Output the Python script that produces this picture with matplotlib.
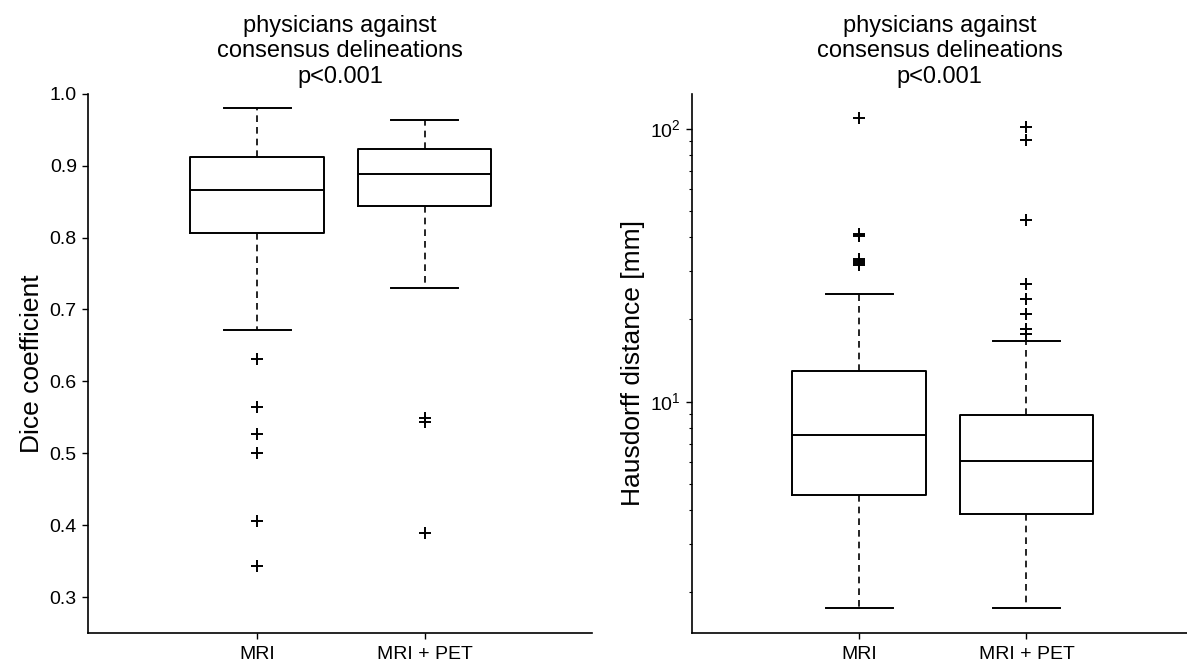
import matplotlib
matplotlib.use('Agg')
import matplotlib.pyplot as plt
from matplotlib.ticker import LogLocator, NullFormatter

plt.rcParams['font.family'] = ['Liberation Sans', 'DejaVu Sans']
plt.rcParams['mathtext.fontset'] = 'custom'
plt.rcParams['mathtext.rm'] = 'Liberation Sans'
plt.rcParams['mathtext.it'] = 'Liberation Sans:italic'

groups = ['MRI', 'MRI + PET']
title = 'physicians against\nconsensus delineations\np<0.001'

# Dice coefficient
dice_whislo = [0.671, 0.730]
dice_q1 = [0.807, 0.844]
dice_med = [0.866, 0.889]
dice_q3 = [0.912, 0.923]
dice_whishi = [0.980, 0.963]
dice_fliers = [[0.631, 0.564, 0.527, 0.501, 0.406, 0.343],
               [0.549, 0.544, 0.389]]

# Hausdorff distance [mm]
hd_whislo = [1.75, 1.75]
hd_q1 = [4.53, 3.86]
hd_med = [7.57, 6.08]
hd_q3 = [12.9, 8.93]
hd_whishi = [24.8, 16.6]
hd_fliers = [[109.0, 41.2, 40.8, 40.3, 33.4, 32.8, 32.1, 31.5],
             [101.0, 90.8, 46.4, 26.9, 23.8, 21.0, 18.5, 17.7]]


def make_stats(lo, q1, med, q3, hi, fl):
    return [dict(label=groups[i], whislo=lo[i], q1=q1[i], med=med[i],
                 q3=q3[i], whishi=hi[i], fliers=fl[i]) for i in range(len(groups))]


def draw_box(ax, stats):
    ax.bxp(stats, positions=[1, 2], widths=0.8, capwidths=0.4,
           boxprops=dict(color='black', linewidth=1.4),
           medianprops=dict(color='black', linewidth=1.4),
           whiskerprops=dict(color='black', linewidth=1.2, linestyle=(0, (4, 3))),
           capprops=dict(color='black', linewidth=1.4),
           flierprops=dict(marker='+', markersize=9, markeredgewidth=1.4,
                           markeredgecolor='black'))
    ax.spines['top'].set_visible(False)
    ax.spines['right'].set_visible(False)
    ax.spines['left'].set_linewidth(1.2)
    ax.spines['bottom'].set_linewidth(1.2)
    ax.tick_params(direction='out', length=4.5, width=1, labelsize=14)
    ax.tick_params(axis='x', pad=5)
    ax.tick_params(which='minor', direction='out', length=2.5, width=0.8)
    ax.set_title(title, fontsize=17, pad=8)


fig = plt.figure(figsize=(11.87, 6.64), dpi=100)

ax1 = fig.add_axes([0.0741, 0.0467, 0.4246, 0.812])
draw_box(ax1, make_stats(dice_whislo, dice_q1, dice_med, dice_q3, dice_whishi, dice_fliers))
ax1.set_xlim(-0.01, 3.0)
ax1.set_ylim(0.25, 1.0)
ax1.set_yticks([0.3, 0.4, 0.5, 0.6, 0.7, 0.8, 0.9, 1.0])
ax1.set_ylabel('Dice coefficient', fontsize=19)

ax2 = fig.add_axes([0.583, 0.0467, 0.417, 0.812])
draw_box(ax2, make_stats(hd_whislo, hd_q1, hd_med, hd_q3, hd_whishi, hd_fliers))
ax2.set_yscale('log')
ax2.set_xlim(0, 2.96)
ax2.set_ylim(1.42, 134)
ax2.yaxis.set_minor_locator(LogLocator(base=10, subs=range(2, 10)))
ax2.yaxis.set_minor_formatter(NullFormatter())
ax2.set_ylabel('Hausdorff distance [mm]', fontsize=19)

fig.savefig('out.png', dpi=100)
